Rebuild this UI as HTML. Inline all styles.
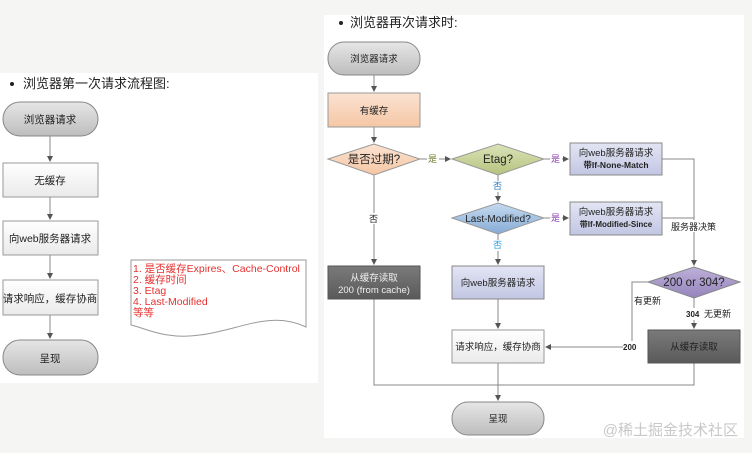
<!DOCTYPE html>
<html><head><meta charset="utf-8"><style>
html,body{margin:0;padding:0;background:#f5f5f3;}
svg{display:block;font-family:"Liberation Sans","Noto Sans CJK SC",sans-serif;}
</style></head><body>
<svg width="752" height="453" viewBox="0 0 752 453" xmlns="http://www.w3.org/2000/svg">
<defs>
<marker id="a" markerWidth="6" markerHeight="6" refX="5" refY="3" orient="auto"><path d="M0,0 L6,3 L0,6 z" fill="#555"/></marker>
<linearGradient id="gr" x1="0" y1="0" x2="0" y2="1"><stop offset="0" stop-color="#e6e6e6"/><stop offset="1" stop-color="#bdbdbd"/></linearGradient>
<linearGradient id="wb" x1="0" y1="0" x2="0" y2="1"><stop offset="0" stop-color="#ffffff"/><stop offset="1" stop-color="#eaeaea"/></linearGradient>
<linearGradient id="or" x1="0" y1="0" x2="0" y2="1"><stop offset="0" stop-color="#fbe3d2"/><stop offset="1" stop-color="#f5c6a4"/></linearGradient>
<linearGradient id="gn" x1="0" y1="0" x2="0" y2="1"><stop offset="0" stop-color="#dbe3b8"/><stop offset="1" stop-color="#b5c37f"/></linearGradient>
<linearGradient id="bl" x1="0" y1="0" x2="0" y2="1"><stop offset="0" stop-color="#c6daf0"/><stop offset="1" stop-color="#86acd6"/></linearGradient>
<linearGradient id="lv" x1="0" y1="0" x2="0" y2="1"><stop offset="0" stop-color="#e3e5f3"/><stop offset="1" stop-color="#c2c6e3"/></linearGradient>
<linearGradient id="pu" x1="0" y1="0" x2="0" y2="1"><stop offset="0" stop-color="#bdb0d8"/><stop offset="1" stop-color="#9584bd"/></linearGradient>
<linearGradient id="dk" x1="0" y1="0" x2="0" y2="1"><stop offset="0" stop-color="#7a7a7a"/><stop offset="1" stop-color="#5a5a5a"/></linearGradient>
</defs>
<!-- panels -->
<rect x="0" y="73" width="318" height="310" fill="#fff"/>
<rect x="324" y="15" width="420" height="423" fill="#fff"/>

<!-- LEFT -->
<circle cx="12" cy="84" r="2" fill="#222"/>
<text x="23" y="88" font-size="13" fill="#222">浏览器第一次请求流程图:</text>
<g stroke="#888" stroke-width="1" fill="none">
<line x1="50" y1="136" x2="50" y2="161" marker-end="url(#a)"/>
<line x1="50" y1="197" x2="50" y2="219" marker-end="url(#a)"/>
<line x1="50" y1="255" x2="50" y2="278" marker-end="url(#a)"/>
<line x1="50" y1="315" x2="50" y2="338" marker-end="url(#a)"/>
</g>
<rect x="3" y="102" width="95" height="34" rx="17" fill="url(#gr)" stroke="#888"/>
<rect x="3" y="163" width="95" height="34" fill="url(#wb)" stroke="#999"/>
<rect x="3" y="221" width="95" height="34" fill="url(#wb)" stroke="#999"/>
<rect x="3" y="280" width="95" height="35" fill="url(#wb)" stroke="#999"/>
<rect x="3" y="340" width="95" height="35" rx="17" fill="url(#gr)" stroke="#888"/>
<g font-size="10.5" fill="#222" text-anchor="middle">
<text x="50" y="123">浏览器请求</text>
<text x="50" y="184">无缓存</text>
<text x="50" y="242">向web服务器请求</text>
<text x="50" y="302">请求响应，缓存协商</text>
<text x="50" y="362">呈现</text>
</g>
<path d="M131,260 L306,260 L306,327 C270,310 240,330 200,335 C165,340 145,328 131,325 Z" fill="#fff" stroke="#999"/>
<g font-size="10.5" fill="#e53030">
<text x="133" y="272">1. 是否缓存Expires、Cache-Control</text>
<text x="133" y="283">2. 缓存时间</text>
<text x="133" y="294">3. Etag</text>
<text x="133" y="305">4. Last-Modified</text>
<text x="133" y="316">等等</text>
</g>

<!-- RIGHT -->
<circle cx="341" cy="23" r="2" fill="#222"/>
<text x="350" y="27" font-size="13" fill="#222">浏览器再次请求时:</text>
<g stroke="#888" stroke-width="1" fill="none">
<line x1="374" y1="75" x2="374" y2="91" marker-end="url(#a)"/>
<line x1="374" y1="127" x2="374" y2="142" marker-end="url(#a)"/>
<line x1="420" y1="159" x2="450" y2="159" marker-end="url(#a)"/>
<line x1="544" y1="159" x2="568" y2="159" marker-end="url(#a)"/>
<line x1="498" y1="175" x2="498" y2="201" marker-end="url(#a)"/>
<line x1="544" y1="218" x2="568" y2="218" marker-end="url(#a)"/>
<line x1="498" y1="234" x2="498" y2="264" marker-end="url(#a)"/>
<line x1="374" y1="175" x2="374" y2="264" marker-end="url(#a)"/>
<polyline points="662,159 694,159 694,265" marker-end="url(#a)"/>
<line x1="662" y1="218" x2="694" y2="218"/>
<line x1="694" y1="298" x2="694" y2="328" marker-end="url(#a)"/>
<polyline points="648,282 632,282 632,347 546,347" marker-end="url(#a)"/>
<line x1="498" y1="299" x2="498" y2="328" marker-end="url(#a)"/>
<polyline points="374,299 374,385 694,385 694,363"/>
<line x1="498" y1="363" x2="498" y2="400" marker-end="url(#a)"/>
</g>
<rect x="328" y="42" width="92" height="33" rx="16" fill="url(#gr)" stroke="#888"/>
<rect x="328" y="93" width="92" height="34" fill="url(#or)" stroke="#999"/>
<polygon points="328,159 374,144 420,159 374,175" fill="url(#or)" stroke="#999"/>
<polygon points="452,159 498,144 544,159 498,175" fill="url(#gn)" stroke="#999"/>
<rect x="570" y="143" width="92" height="32" fill="url(#lv)" stroke="#888"/>
<polygon points="452,218 498,203 544,218 498,234" fill="url(#bl)" stroke="#999"/>
<rect x="570" y="202" width="92" height="33" fill="url(#lv)" stroke="#888"/>
<polygon points="648,282 694,267 740,282 694,298" fill="url(#pu)" stroke="#888"/>
<rect x="328" y="266" width="92" height="33" fill="url(#dk)" stroke="#555"/>
<rect x="452" y="266" width="92" height="33" fill="url(#lv)" stroke="#888"/>
<rect x="452" y="330" width="92" height="33" fill="url(#wb)" stroke="#999"/>
<rect x="648" y="330" width="92" height="33" fill="url(#dk)" stroke="#555"/>
<rect x="452" y="402" width="92" height="33" rx="16" fill="url(#gr)" stroke="#888"/>
<g font-size="9.5" fill="#222" text-anchor="middle">
<text x="374" y="62">浏览器请求</text>
<text x="374" y="114">有缓存</text>
<text x="374" y="163" font-size="11.5">是否过期?</text>
<text x="498" y="163" font-size="11.5">Etag?</text>
<text x="616" y="156">向web服务器请求</text>
<text x="616" y="168" font-weight="bold" font-size="8.5">带If-None-Match</text>
<text x="498" y="222" font-size="10">Last-Modified?</text>
<text x="616" y="215">向web服务器请求</text>
<text x="616" y="227" font-weight="bold" font-size="8">带If-Modified-Since</text>
<text x="694" y="286" font-size="11.5">200 or 304?</text>
<text x="374" y="281" fill="#eee">从缓存读取</text>
<text x="374" y="293" fill="#eee">200 (from cache)</text>
<text x="498" y="286">向web服务器请求</text>
<text x="498" y="350">请求响应，缓存协商</text>
<text x="694" y="350">从缓存读取</text>
<text x="498" y="422">呈现</text>
</g>
<g font-size="9" fill="#222">
<rect x="427" y="154" width="12" height="11" fill="#fff"/>
<text x="428" y="162" fill="#6a7a2a">是</text>
<rect x="550" y="154" width="12" height="11" fill="#fff"/>
<text x="551" y="162" fill="#8a3ab0">是</text>
<rect x="550" y="213" width="12" height="11" fill="#fff"/>
<text x="551" y="221" fill="#8a3ab0">是</text>
<rect x="492" y="181" width="12" height="11" fill="#fff"/>
<text x="493" y="189" fill="#2a7ac0">否</text>
<rect x="492" y="240" width="12" height="11" fill="#fff"/>
<text x="493" y="248" fill="#2a9ae0">否</text>
<rect x="368" y="213" width="12" height="11" fill="#fff"/>
<text x="369" y="222">否</text>
<rect x="670" y="220" width="48" height="12" fill="#fff"/>
<text x="671" y="230">服务器决策</text>
<rect x="633" y="294" width="30" height="12" fill="#fff"/>
<text x="634" y="304">有更新</text>
<rect x="623" y="341" width="17" height="12" fill="#fff"/>
<text x="623" y="350" font-weight="bold" font-size="8">200</text>
<rect x="685" y="308" width="55" height="12" fill="#fff"/>
<text x="686" y="317" font-size="8" font-weight="bold">304</text>
<text x="704" y="317">无更新</text>
</g>
<text x="738" y="435" font-size="15" fill="#c8c8c8" text-anchor="end">@稀土掘金技术社区</text>
</svg>
</body></html>
